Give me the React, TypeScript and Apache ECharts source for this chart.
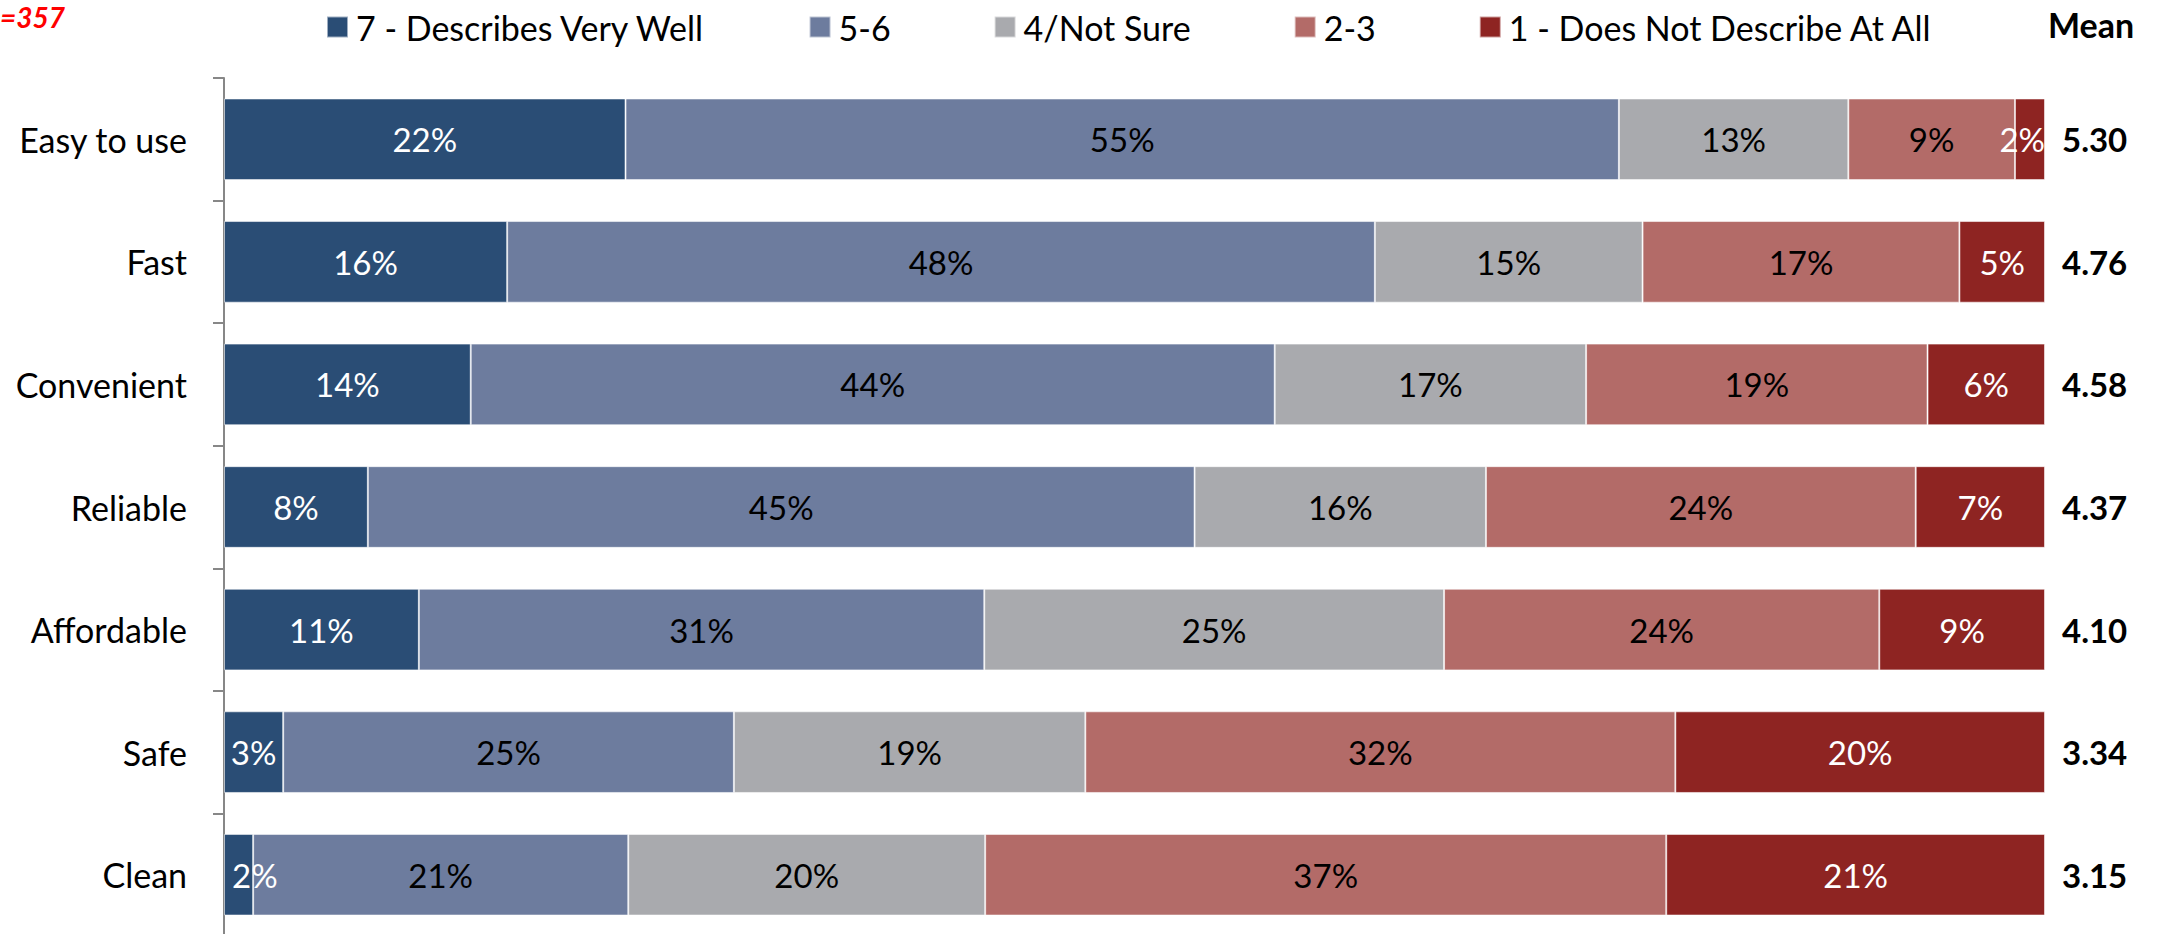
import React, { useEffect, useRef } from "react";
import * as echarts from "echarts";

const categories = ["Easy to use", "Fast", "Convenient", "Reliable", "Affordable", "Safe", "Clean"];
const seriesNames = ["7 - Describes Very Well", "5-6", "4/Not Sure", "2-3", "1 - Does Not Describe At All"];
const describesVeryWell = [22.05, 15.55, 13.55, 7.9, 10.7, 3.25, 1.6];
const fiveToSix = [54.55, 47.65, 44.15, 45.4, 31.05, 24.75, 20.6];
const notSure = [12.6, 14.7, 17.1, 16.0, 25.25, 19.3, 19.6];
const twoToThree = [9.15, 17.4, 18.75, 23.6, 23.9, 32.4, 37.4];
const notAtAll = [1.65, 4.7, 6.45, 7.1, 9.1, 20.3, 20.8];
const means = ["5.30", "4.76", "4.58", "4.37", "4.10", "3.34", "3.15"];
const sampleLabel = "=357";
const meanHeader = "Mean";

const colors = ["#2A4D75", "#6D7C9E", "#A9AAAE", "#B36B68", "#8E2422"];
const labelColors = ["#ffffff", "#000000", "#000000", "#000000", "#ffffff"];
const FONT = "Lato";

export default function App() {
  const ref = useRef<HTMLDivElement>(null);
  useEffect(() => {
    if (!ref.current) return;
    const chart = echarts.init(ref.current, null, { renderer: "svg" });
    const allData = [describesVeryWell, fiveToSix, notSure, twoToThree, notAtAll];
    const last = allData.length - 1;
    chart.setOption({
      animation: false,
      backgroundColor: "#ffffff",
      title: [
        {
          text: sampleLabel,
          left: 0,
          top: 3,
          padding: 0,
          textStyle: { color: "#ff0000", fontSize: 28, fontWeight: "bold", fontStyle: "italic", fontFamily: FONT },
        },
        {
          text: meanHeader,
          left: 2048,
          top: 7,
          padding: 0,
          textStyle: { color: "#000000", fontSize: 34, fontWeight: "bold", fontFamily: FONT },
        },
      ],
      legend: {
        data: seriesNames,
        left: 326,
        top: 10,
        padding: 0,
        itemWidth: 21,
        itemHeight: 21,
        itemGap: 103,
        icon: "rect",
        textStyle: { fontSize: 34, color: "#000000", fontFamily: FONT, padding: [0, 0, 0, 3], lineHeight: 30 },
      },
      grid: { left: 224, right: 119, top: 78, bottom: -2, containLabel: false, outerBoundsMode: "none" },
      xAxis: { type: "value", min: 0, max: 100, show: false },
      yAxis: [
        {
          type: "category",
          data: categories,
          inverse: true,
          position: "left",
          axisLine: { show: true, lineStyle: { color: "#878787", width: 2 } },
          axisTick: { show: true, length: 11, lineStyle: { color: "#878787", width: 2 } },
          axisLabel: { fontSize: 34, color: "#000000", fontFamily: FONT, margin: 37 },
          splitLine: { show: false },
        },
        {
          type: "category",
          data: means,
          inverse: true,
          position: "right",
          axisLine: { show: false },
          axisTick: { show: false },
          axisLabel: { fontSize: 33, color: "#000000", fontWeight: "bold", fontFamily: FONT, margin: 17 },
          splitLine: { show: false },
        },
      ],
      series: seriesNames.map((name, i) => ({
        name,
        type: "bar",
        stack: "total",
        yAxisIndex: 0,
        barCategoryGap: "33.4%",
        data: allData[i].map((v) => {
          if (v < 2.5 && i === 0) return { value: v, label: { position: "insideLeft", distance: 8 } };
          if (v < 2.5 && i === last) return { value: v, label: { position: "insideRight", distance: 0 } };
          return v;
        }),
        itemStyle: { color: colors[i], borderColor: "rgba(255,255,255,0.55)", borderWidth: 1 },
        label: {
          show: true,
          position: "inside",
          color: labelColors[i],
          fontSize: 33,
          fontFamily: FONT,
          formatter: (p: any) => `${Math.round(p.value)}%`,
        },
      })),
    });
    return () => chart.dispose();
  }, []);
  return <div ref={ref} style={{ position: "fixed", left: 0, top: 0, width: 2164, height: 934 }} />;
}
